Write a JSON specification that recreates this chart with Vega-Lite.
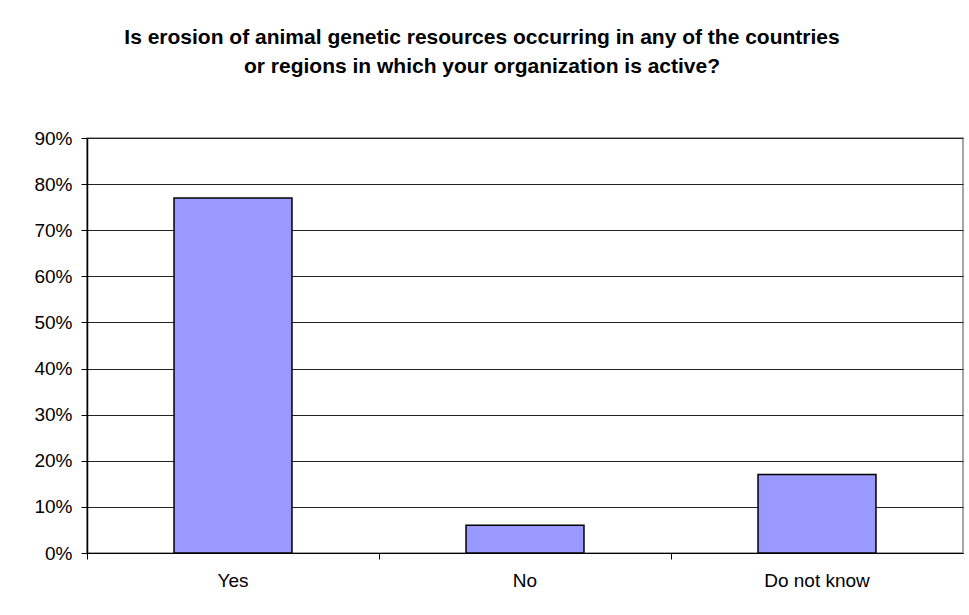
{
  "$schema": "https://vega.github.io/schema/vega-lite/v6.json",
  "autosize": {"type": "none"},
  "width": 876,
  "height": 415,
  "padding": {"left": 87, "top": 138, "right": 6, "bottom": 62},
  "background": "white",
  "title": {
    "text": ["Is erosion of animal genetic resources occurring in any of the countries", "or regions in which your organization is active?"],
    "font": "Liberation Sans",
    "fontSize": 21,
    "fontWeight": "bold",
    "color": "black",
    "anchor": "middle",
    "dx": -43,
    "lineHeight": 29,
    "offset": 52
  },
  "data": {
    "values": [
      {"answer": "Yes", "share": 0.77},
      {"answer": "No", "share": 0.06},
      {"answer": "Do not know", "share": 0.17}
    ]
  },
  "mark": {"type": "bar", "fill": "#9999FF", "stroke": "black", "strokeWidth": 1.5, "width": {"band": 0.404}},
  "encoding": {
    "x": {
      "field": "answer",
      "type": "nominal",
      "sort": null,
      "scale": {"paddingInner": 0, "paddingOuter": 0},
      "axis": {
        "title": null,
        "labelAngle": 0,
        "labelFont": "Liberation Sans",
        "labelFontSize": 19,
        "labelColor": "black",
        "labelPadding": 12,
        "domainColor": "black",
        "domainWidth": 1,
        "tickColor": "black",
        "tickSize": 6,
        "bandPosition": 0,
        "grid": false
      }
    },
    "y": {
      "field": "share",
      "type": "quantitative",
      "scale": {"domain": [0, 0.9]},
      "axis": {
        "title": null,
        "format": ".0%",
        "values": [0, 0.1, 0.2, 0.3, 0.4, 0.5, 0.6, 0.7, 0.8, 0.9],
        "labelFont": "Liberation Sans",
        "labelFontSize": 19,
        "labelColor": "black",
        "labelPadding": 9,
        "domainColor": "black",
        "domainWidth": 1.5,
        "tickColor": "black",
        "tickSize": 6,
        "grid": true,
        "gridColor": "#222222",
        "gridWidth": 1,
        "gridOpacity": 1
      }
    }
  },
  "config": {
    "view": {"stroke": "#888888", "strokeWidth": 1.5}
  }
}
